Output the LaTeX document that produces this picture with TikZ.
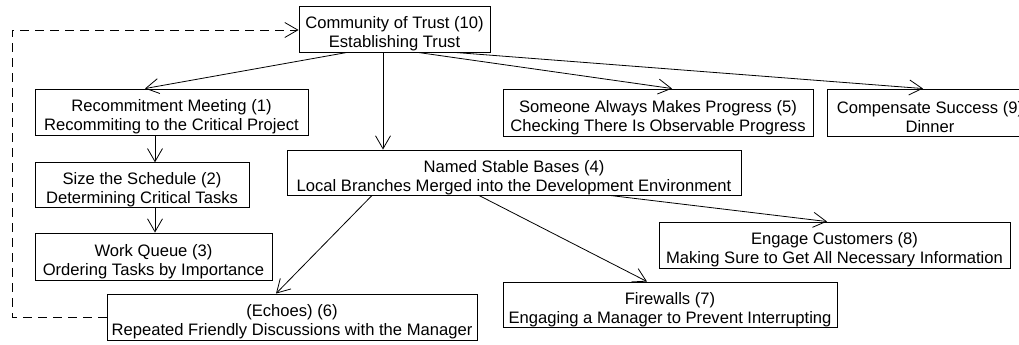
\documentclass[tikz,border=0pt]{standalone}
\usepackage{fontspec}
\setmainfont{Liberation Sans}
\usetikzlibrary{arrows.meta}
\newcommand{\tpstrut}{\rule{0pt}{22pt}}
\begin{document}
\begin{tikzpicture}[x=1pt,y=-1pt,
  box/.style={draw, line width=0.9pt, inner sep=0pt, align=center,
    font=\fontsize{16.6}{19}\selectfont},
  conn/.style={line width=0.8pt, -{Straight Barb[length=13pt,width=15pt,line width=0.8pt]}},
  back/.style={conn, dashed, dash pattern=on 9pt off 6pt}]
\useasboundingbox (0,0) rectangle (1019,345);
\node[box, minimum width=191pt, minimum height=46pt] (c10) at (394.5,29) {\tpstrut Community of Trust (10)\\Establishing Trust};
\node[box, minimum width=273pt, minimum height=46pt] (n1) at (171.5,112) {\tpstrut Recommitment Meeting (1)\\Recommiting to the Critical Project};
\node[box, minimum width=310pt, minimum height=47pt] (n5) at (658,112.5) {\tpstrut Someone Always Makes Progress (5)\\Checking There Is Observable Progress};
\node[box, minimum width=206pt, minimum height=47pt] (n9) at (930,112.5) {\tpstrut Compensate Success (9)\\Dinner};
\node[box, minimum width=454pt, minimum height=45pt] (n4) at (514,172.5) {\tpstrut Named Stable Bases (4)\\Local Branches Merged into the Development Environment};
\node[box, minimum width=214pt, minimum height=44pt] (n2) at (142,185) {\tpstrut Size the Schedule (2)\\Determining Critical Tasks};
\node[box, minimum width=237pt, minimum height=47pt] (n3) at (153.5,256.5) {\tpstrut Work Queue (3)\\Ordering Tasks by Importance};
\node[box, minimum width=370pt, minimum height=46pt] (n6) at (292,317) {\tpstrut (Echoes) (6)\\Repeated Friendly Discussions with the Manager};
\node[box, minimum width=351pt, minimum height=46pt] (n8) at (834.5,245) {\tpstrut Engage Customers (8)\\Making Sure to Get All Necessary Information};
\node[box, minimum width=334pt, minimum height=45pt] (n7) at (670,304.5) {\tpstrut Firewalls (7)\\Engaging a Manager to Prevent Interrupting};
\coordinate (bl) at (12,317);
\coordinate (tl) at (12,30);
\draw[conn] ([xshift=-47.5pt]c10.south) -- ([xshift=-26.5pt]n1.north);
\draw[conn] ([xshift=-11.5pt]c10.south) -- ([xshift=-131pt]n4.north);
\draw[conn] ([xshift=23.5pt]c10.south) -- ([xshift=14pt]n5.north);
\draw[conn] ([xshift=60.5pt]c10.south) -- ([xshift=-7pt]n9.north);
\draw[conn] ([xshift=-16.5pt]n1.south) -- ([xshift=13pt]n2.north);
\draw[conn] ([xshift=13pt]n2.south) -- ([xshift=1.5pt]n3.north);
\draw[conn] ([xshift=-142pt]n4.south) -- ([xshift=-16pt]n6.north);
\draw[conn] ([xshift=-35pt]n4.south) -- ([xshift=-23pt]n7.north);
\draw[conn] ([xshift=96pt]n4.south) -- ([xshift=-7.5pt]n8.north);
\draw[back] (n6.west |- bl) -- (bl) -- (tl) -- (c10.west |- tl);
\end{tikzpicture}
\end{document}
